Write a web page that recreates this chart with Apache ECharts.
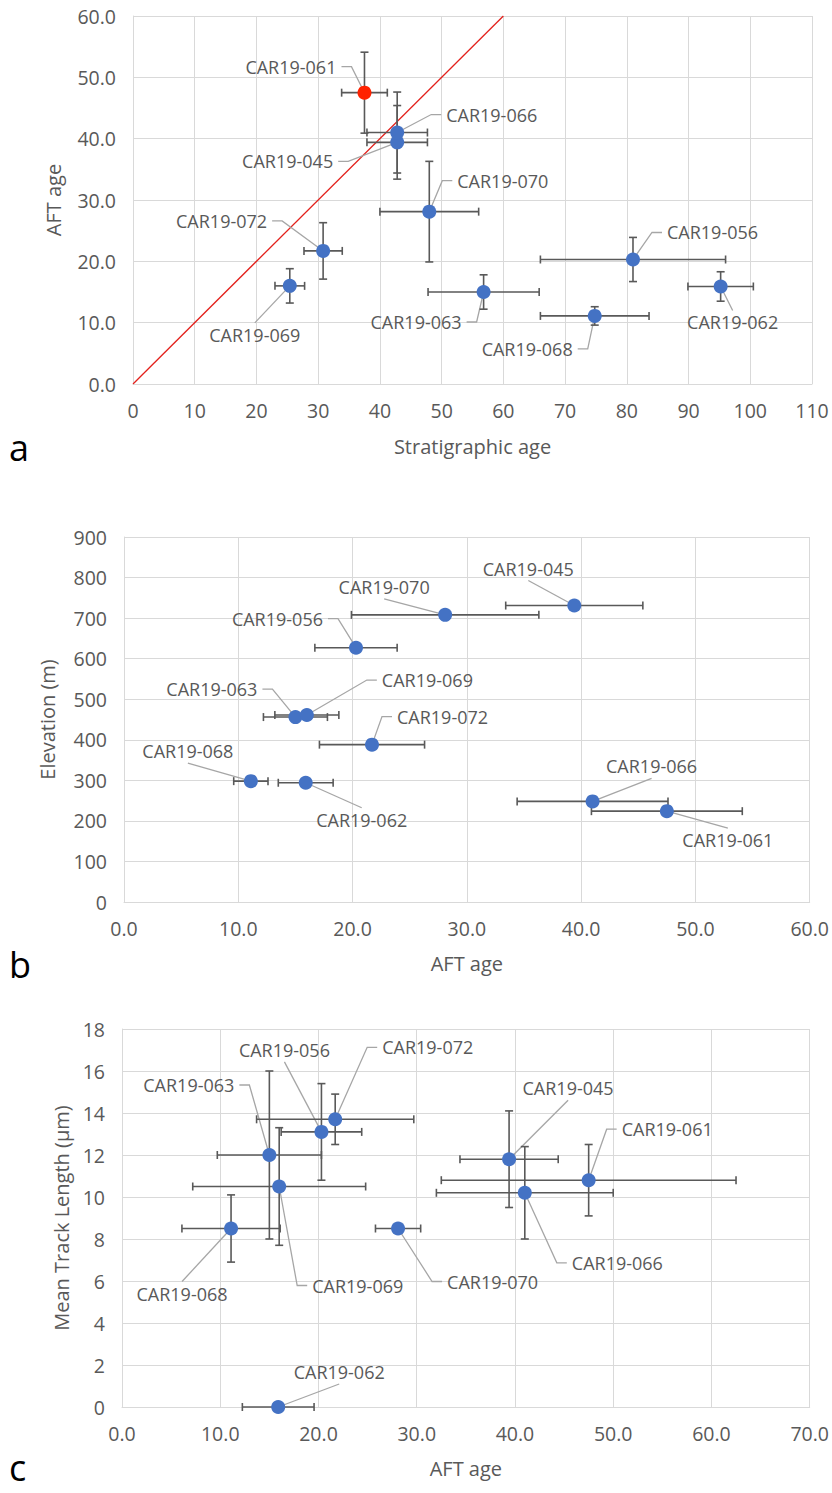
<!DOCTYPE html>
<html>
<head>
<meta charset="utf-8">
<script src="https://cdn.jsdelivr.net/npm/echarts@6/dist/echarts.min.js"></script>
<style>
  html, body { margin: 0; padding: 0; background: #ffffff; }
  #chart { width: 832px; height: 1493px; }
</style>
</head>
<body>
<div id="chart"></div>
<script>
// Samples
const samples = ['CAR19-045', 'CAR19-056', 'CAR19-061', 'CAR19-062', 'CAR19-063',
                 'CAR19-066', 'CAR19-068', 'CAR19-069', 'CAR19-070', 'CAR19-072'];

// Apatite fission-track central ages (Ma) and 1-sigma errors
const aftAge    = [39.4, 20.3, 47.5, 15.9, 15.0, 41.0, 11.1, 16.0, 28.1, 21.7];
const aftAgeErr = [ 6.0,  3.6,  6.6,  2.4,  2.8,  6.6,  1.5,  2.8,  8.2,  4.6];

// (a) Stratigraphic ages and their ranges
const stratAge    = [42.8, 81.0, 37.5, 95.2, 56.8, 42.8, 74.8, 25.4, 48.0, 30.8];
const stratAgeErr = [ 4.9, 15.0,  3.7,  5.3,  9.0,  4.9,  8.8,  2.4,  8.0,  3.1];

// (b) Sample elevation (m)
const elevation = [731, 627, 224, 294, 456, 248, 298, 461, 708, 388];

// (c) Mean track length (µm) with errors; AFT age spread used for the x bars
const aftAgeSpread   = [ 5.0,  4.1, 15.0, 3.65,  5.3,  9.0,  5.0,  8.8,  2.3,  8.0];
const trackLength    = [11.8, 13.1, 10.8,  0.0, 12.0, 10.2,  8.5, 10.5,  8.5, 13.7];
const trackLengthErr = [ 2.3,  2.3,  1.7,  0.0,  4.0,  2.2,  1.6,  2.8,  0.0,  1.2];

// 1:1 reference line in (a)
const oneToOne = [[0, 0], [60, 60]];
const highlighted = 'CAR19-061';

// Axis ranges [min, max, interval]
const axA = { x: [0, 110, 10], y: [0, 60, 10] };
const axB = { x: [0, 60, 10], y: [0, 900, 100] };
const axC = { x: [0, 70, 10], y: [0, 18, 2] };

// Label placement: side ('L','R' = text left/right of point, 'T','B' = above/below)
// and pixel offset of the text anchor from the point
const placeA = {
  'CAR19-061': ['L', -28, -26], 'CAR19-066': ['R', 49, -18], 'CAR19-045': ['L', -64, 19],
  'CAR19-070': ['R', 28, -31],  'CAR19-072': ['L', -56, -30], 'CAR19-069': ['B', -35, 49],
  'CAR19-063': ['L', -22, 30],  'CAR19-068': ['L', -22, 33],  'CAR19-056': ['R', 34, -27],
  'CAR19-062': ['B', 12, 36]
};
const placeB = {
  'CAR19-045': ['T', -46, -37], 'CAR19-070': ['T', -61, -28], 'CAR19-056': ['L', -33, -29],
  'CAR19-063': ['L', -38, -28], 'CAR19-069': ['R', 75, -35],  'CAR19-072': ['R', 25, -28],
  'CAR19-068': ['T', -63, -30], 'CAR19-062': ['B', 56, 37],   'CAR19-066': ['T', 59, -35],
  'CAR19-061': ['B', 61, 29]
};
const placeC = {
  'CAR19-063': ['L', -35, -70], 'CAR19-056': ['T', -37, -82], 'CAR19-072': ['R', 47, -72],
  'CAR19-045': ['T', 59, -71],  'CAR19-061': ['R', 33, -51],  'CAR19-068': ['B', -49, 65],
  'CAR19-069': ['R', 33, 99],   'CAR19-070': ['R', 49, 53],   'CAR19-066': ['R', 47, 70],
  'CAR19-062': ['T', 61, -35]
};

const FONT = '"Open Sans", "DejaVu Sans", sans-serif';
const TEXT = '#595959';
const GRIDC = '#d9d9d9';
const BLUE = '#4472c4';
const RED = '#ff2200';

function valueAxis(idx, range, name, nameGap, fmt, isX) {
  return {
    type: 'value', gridIndex: idx,
    min: range[0], max: range[1], interval: range[2],
    name: name, nameLocation: 'middle', nameGap: nameGap,
    nameTextStyle: { color: TEXT, fontSize: 20, fontFamily: FONT },
    axisLine: { show: true, lineStyle: { color: GRIDC, width: 1 } },
    axisTick: { show: false },
    splitLine: { show: true, lineStyle: { color: GRIDC, width: 1 } },
    axisLabel: { color: TEXT, fontSize: 19.5, fontFamily: FONT, margin: isX ? 16 : 17,
                 formatter: fmt, showMaxLabel: true, showMinLabel: true }
  };
}

const oneDec = v => v.toFixed(1);
const plain = v => String(v);

// Error bars with caps, drawn through the axis scales
function errorBars(params, api) {
  const x = api.value(0), y = api.value(1), ex = api.value(2), ey = api.value(3);
  const style = { stroke: '#595959', lineWidth: 1.6 };
  const cap = 4;
  const kids = [];
  if (ex > 0) {
    const l = api.coord([x - ex, y]), r = api.coord([x + ex, y]);
    kids.push({ type: 'line', shape: { x1: l[0], y1: l[1], x2: r[0], y2: r[1] }, style });
    kids.push({ type: 'line', shape: { x1: l[0], y1: l[1] - cap, x2: l[0], y2: l[1] + cap }, style });
    kids.push({ type: 'line', shape: { x1: r[0], y1: r[1] - cap, x2: r[0], y2: r[1] + cap }, style });
  }
  if (ey > 0) {
    const t = api.coord([x, y + ey]), b = api.coord([x, y - ey]);
    kids.push({ type: 'line', shape: { x1: t[0], y1: t[1], x2: b[0], y2: b[1] }, style });
    kids.push({ type: 'line', shape: { x1: t[0] - cap, y1: t[1], x2: t[0] + cap, y2: t[1] }, style });
    kids.push({ type: 'line', shape: { x1: b[0] - cap, y1: b[1], x2: b[0] + cap, y2: b[1] }, style });
  }
  return { type: 'group', children: kids };
}

// Data labels with leader lines
function labelRenderer(place) {
  return function (params, api) {
    const name = samples[api.value(2)];
    const spec = place[name];
    const p = api.coord([api.value(0), api.value(1)]);
    const ax = p[0] + spec[1], ay = p[1] + spec[2];
    let align, pts;
    if (spec[0] === 'R') { align = 'left';  pts = [[p[0], p[1]], [ax - 15, ay], [ax - 5, ay]]; }
    else if (spec[0] === 'L') { align = 'right'; pts = [[p[0], p[1]], [ax + 15, ay], [ax + 5, ay]]; }
    else if (spec[0] === 'T') { align = 'center'; pts = [[p[0], p[1]], [ax, ay + 12]]; }
    else { align = 'center'; pts = [[p[0], p[1]], [ax, ay - 12]]; }
    return {
      type: 'group',
      children: [
        { type: 'polyline', shape: { points: pts }, style: { stroke: '#a6a6a6', lineWidth: 1.3, fill: null } },
        { type: 'text', style: { text: name, x: ax, y: ay, align: align, verticalAlign: 'middle',
                                 fill: TEXT, fontSize: 18, fontFamily: FONT } }
      ]
    };
  };
}

function panelSeries(gi, xs, ys, exs, eys, place, markRed) {
  const pts = samples.map((s, i) => ({
    value: [xs[i], ys[i]],
    itemStyle: (markRed && s === highlighted) ? { color: RED } : undefined
  }));
  return [
    { type: 'custom', xAxisIndex: gi, yAxisIndex: gi, z: 1, clip: false,
      renderItem: labelRenderer(place), silent: true,
      data: samples.map((s, i) => [xs[i], ys[i], i]) },
    { type: 'custom', xAxisIndex: gi, yAxisIndex: gi, z: 2, clip: false,
      renderItem: errorBars, silent: true,
      data: samples.map((s, i) => [xs[i], ys[i], exs[i], eys[i]]) },
    { type: 'scatter', xAxisIndex: gi, yAxisIndex: gi, z: 3,
      symbol: 'circle', symbolSize: 14, itemStyle: { color: BLUE, opacity: 1 },
      data: pts }
  ];
}

const chart = echarts.init(document.getElementById('chart'), null, { renderer: 'svg' });

const panelLetter = (ch, top) => ({
  type: 'text', left: 9, top: top,
  style: { text: ch, fontSize: 36, lineHeight: 36, fontFamily: FONT, fill: '#000' }
});

const option = {
  animation: false,
  backgroundColor: '#ffffff',
  textStyle: { fontFamily: FONT },
  grid: [
    { left: 133, top: 16,   width: 679, height: 368 },
    { left: 124, top: 537,  width: 688, height: 365 },
    { left: 122, top: 1029, width: 697, height: 378 }
  ],
  xAxis: [
    valueAxis(0, axA.x, 'Stratigraphic age', 52, plain, true),
    valueAxis(1, axB.x, 'AFT age', 51, oneDec, true),
    valueAxis(2, axC.x, 'AFT age', 51, oneDec, true)
  ],
  yAxis: [
    valueAxis(0, axA.y, 'AFT age', 70, oneDec, false),
    valueAxis(1, axB.y, 'Elevation (m)', 67, plain, false),
    valueAxis(2, axC.y, 'Mean Track Length (\u00b5m)', 50, plain, false)
  ],
  graphic: [
    panelLetter('a', 429),
    panelLetter('b', 946),
    panelLetter('c', 1449)
  ],
  series: [
    { type: 'line', xAxisIndex: 0, yAxisIndex: 0, z: 0, data: oneToOne, showSymbol: false,
      silent: true, lineStyle: { color: '#e3211c', width: 1.3 } },
    ...panelSeries(0, stratAge, aftAge, stratAgeErr, aftAgeErr, placeA, true),
    ...panelSeries(1, aftAge, elevation, aftAgeErr, elevation.map(() => 0), placeB, false),
    ...panelSeries(2, aftAge, trackLength, aftAgeSpread, trackLengthErr, placeC, false)
  ]
};

chart.setOption(option);
</script>
</body>
</html>
